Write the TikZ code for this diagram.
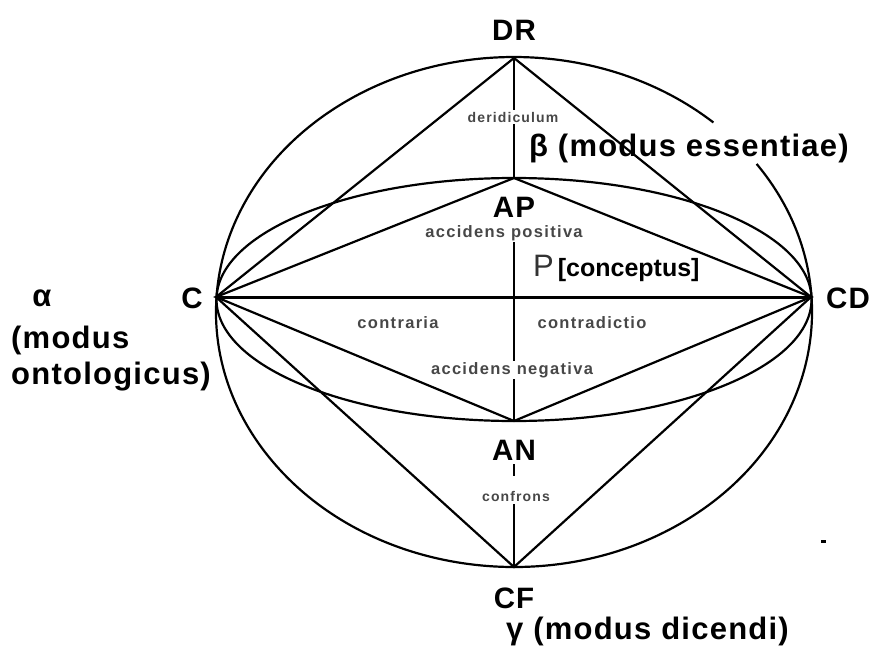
\documentclass[tikz,border=0pt]{standalone}
\usepackage{fontspec}
\setmainfont{Liberation Sans}
\newfontfamily\bigfont[LetterSpace=4]{Liberation Sans Bold}
\newfontfamily\smallfont[LetterSpace=8]{Liberation Sans Bold}
\begin{document}
\begin{tikzpicture}[x=1pt,y=-1pt,
  geo/.style={line width=2.2pt,black},
  axis/.style={line width=1.5pt,black},
  vertex/.style={font=\bigfont\fontsize{29.5}{30}\selectfont,inner sep=1pt},
  side/.style={font=\bigfont\fontsize{31}{34}\selectfont,inner sep=0pt},
  tag/.style={font=\smallfont\fontsize{16.5}{18}\selectfont,text=black!72,fill=white,inner sep=1.5pt},
  tinytag/.style={font=\smallfont\fontsize{14}{16}\selectfont,text=black!72,fill=white,inner sep=1.5pt}]
\useasboundingbox (0,0) rectangle (874,650);
% key points
\coordinate (DR) at (514,58);
\coordinate (AP) at (514,178);
\coordinate (AN) at (514,421);
\coordinate (CF) at (514,567);
\coordinate (C) at (216,297);
\coordinate (CD) at (811,297);
\coordinate (O1) at (514,312);
\coordinate (O2) at (514,299.5);
% outer ellipse with a gap near the beta label
\draw[geo] ([shift={(-35.5:298 and 255)}]O1) arc[start angle=-35.5, end angle=312, x radius=298, y radius=255];
% inner ellipse
\draw[geo] (O2) ellipse[x radius=297.5, y radius=121.5];
% rhombi
\draw[geo] (C) -- (DR) -- (CD) -- (CF) -- cycle;
\draw[geo] (C) -- (AP) -- (CD) -- (AN) -- cycle;
\draw[line width=3pt] (C) -- (CD);
% labels on the axis
\node[tinytag] (deri) at (513,117) {deridiculum};
\node[vertex] (APl) at (514,207) {AP};
\node[tag] (accp) at (504,233) {accidens positiva};
\node[tag] (accn) at (512,370) {accidens negativa};
\node[vertex] (ANl) at (514,450) {AN};
\node[tinytag,inner sep=3pt] (conf) at (516,496) {confrons};
% vertical axis, broken by its labels
\draw[axis] (DR) -- (deri.north -| DR);
\draw[axis] (deri.south -| DR) -- (AP);
\draw[axis] (accp.south -| AP) -- (accn.north -| AP);
\draw[axis] (accn.south -| AP) -- (AN);
\draw[axis] ([yshift=-3pt]ANl.south) -- ([yshift=-15pt]ANl.south);
\draw[axis] (conf.south -| CF) -- (CF);
% other small labels
\node[tag,fill=none] (contr) at (398,323) {contraria};
\node[tag,fill=none] (contd) at (592,323) {contradictio};
% vertex labels
\node[vertex] (DRl) at (514,30) {DR};
\node[vertex,inner sep=0pt] (CFl) at (514,598) {CF};
\node[vertex] (Cl) at (192,298) {C};
\node[vertex] (CDl) at (848,298) {CD};
% concept label
\node[anchor=west,inner sep=0pt] (P) at (533,268) {{\color{black!80}\fontsize{31}{32}\selectfont P}\hspace{4pt}{\bfseries\fontsize{25}{26}\selectfont[conceptus]}};
% modus labels
\node[side,anchor=west] (beta) at (529,148) {β (modus essentiae)};
\node[side] (alpha) at (42,298) {α};
\node[side,anchor=west] (mod1) at (11,340) {(modus};
\node[side,anchor=west] (mod2) at (11,377) {ontologicus)};
\node[side,anchor=west] (gamma) at (506,631) {γ (modus dicendi)};
% stray dot
\fill (820.5,539.5) rectangle (825.5,542.5);
\end{tikzpicture}
\end{document}
